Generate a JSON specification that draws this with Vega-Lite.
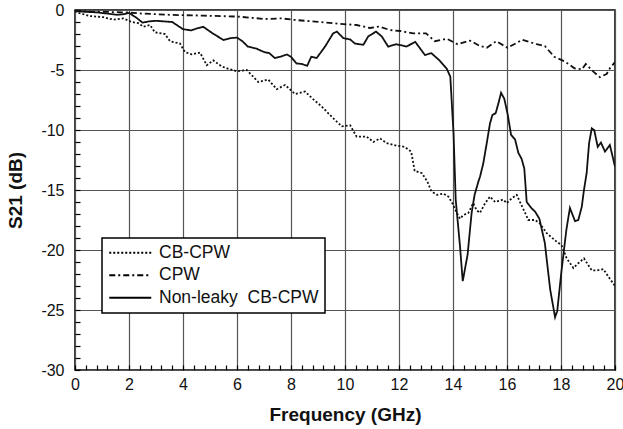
{
  "$schema": "https://vega.github.io/schema/vega-lite/v6.json",
  "width": 540,
  "height": 360,
  "autosize": {"type": "none"},
  "padding": {"left": 75, "top": 10, "right": 8, "bottom": 59},
  "background": "white",
  "config": {
    "font": "Liberation Sans",
    "view": {"stroke": "black", "strokeWidth": 1.5},
    "axis": {
      "domain": false,
      "ticks": true,
      "labelFont": "Liberation Sans",
      "labelFontSize": 16,
      "labelColor": "#111",
      "titleFont": "Liberation Sans",
      "titleFontSize": 19,
      "titleFontWeight": "bold",
      "titleColor": "#111",
      "tickColor": "black",
      "tickWidth": 1.2,
      "gridColor": "#555",
      "gridWidth": 1.2,
      "labelOverlap": false,
      "labelBound": false,
      "labelFlush": false,
      "zindex": 1
    },
    "legend": {
      "orient": "none",
      "legendX": 27,
      "legendY": 228,
      "padding": 6,
      "fillColor": "white",
      "strokeColor": "black",
      "strokeWidth": 1.5,
      "labelFont": "Liberation Sans",
      "labelFontSize": 17.5,
      "labelColor": "#111",
      "symbolType": "M-3,0H3",
      "symbolStrokeWidth": 2,
      "symbolStrokeColor": "black",
      "symbolSize": 196,
      "symbolOffset": 13.5,
      "labelOffset": 20,
      "rowPadding": 3.5,
      "title": null,
      "zindex": 2
    }
  },
  "data": {
    "values": [
      {"f": 0.0, "s21": -0.1, "series": "CB-CPW"},
      {"f": 0.06, "s21": -0.2, "series": "CB-CPW"},
      {"f": 0.55, "s21": -0.5, "series": "CB-CPW"},
      {"f": 1.05, "s21": -0.6, "series": "CB-CPW"},
      {"f": 1.42, "s21": -0.8, "series": "CB-CPW"},
      {"f": 1.79, "s21": -0.7, "series": "CB-CPW"},
      {"f": 2.1, "s21": -1.0, "series": "CB-CPW"},
      {"f": 2.35, "s21": -1.1, "series": "CB-CPW"},
      {"f": 2.53, "s21": -1.4, "series": "CB-CPW"},
      {"f": 2.78, "s21": -1.25, "series": "CB-CPW"},
      {"f": 2.96, "s21": -1.86, "series": "CB-CPW"},
      {"f": 3.33, "s21": -2.0, "series": "CB-CPW"},
      {"f": 3.52, "s21": -2.6, "series": "CB-CPW"},
      {"f": 3.89, "s21": -2.8, "series": "CB-CPW"},
      {"f": 4.07, "s21": -3.5, "series": "CB-CPW"},
      {"f": 4.32, "s21": -3.7, "series": "CB-CPW"},
      {"f": 4.63, "s21": -3.55, "series": "CB-CPW"},
      {"f": 4.88, "s21": -4.6, "series": "CB-CPW"},
      {"f": 5.12, "s21": -4.2, "series": "CB-CPW"},
      {"f": 5.43, "s21": -4.7, "series": "CB-CPW"},
      {"f": 5.68, "s21": -4.9, "series": "CB-CPW"},
      {"f": 5.99, "s21": -5.1, "series": "CB-CPW"},
      {"f": 6.36, "s21": -5.0, "series": "CB-CPW"},
      {"f": 6.79, "s21": -6.0, "series": "CB-CPW"},
      {"f": 7.16, "s21": -5.8, "series": "CB-CPW"},
      {"f": 7.47, "s21": -6.6, "series": "CB-CPW"},
      {"f": 7.78, "s21": -6.25, "series": "CB-CPW"},
      {"f": 8.15, "s21": -7.0, "series": "CB-CPW"},
      {"f": 8.52, "s21": -6.8, "series": "CB-CPW"},
      {"f": 8.83, "s21": -7.45, "series": "CB-CPW"},
      {"f": 9.14, "s21": -8.05, "series": "CB-CPW"},
      {"f": 9.51, "s21": -8.9, "series": "CB-CPW"},
      {"f": 9.88, "s21": -9.7, "series": "CB-CPW"},
      {"f": 10.19, "s21": -9.6, "series": "CB-CPW"},
      {"f": 10.43, "s21": -10.55, "series": "CB-CPW"},
      {"f": 10.8, "s21": -10.55, "series": "CB-CPW"},
      {"f": 11.05, "s21": -11.0, "series": "CB-CPW"},
      {"f": 11.3, "s21": -10.7, "series": "CB-CPW"},
      {"f": 11.54, "s21": -11.1, "series": "CB-CPW"},
      {"f": 11.9, "s21": -11.3, "series": "CB-CPW"},
      {"f": 12.2, "s21": -11.4, "series": "CB-CPW"},
      {"f": 12.45, "s21": -11.8, "series": "CB-CPW"},
      {"f": 12.58, "s21": -13.4, "series": "CB-CPW"},
      {"f": 12.85, "s21": -13.6, "series": "CB-CPW"},
      {"f": 13.05, "s21": -14.3, "series": "CB-CPW"},
      {"f": 13.2, "s21": -15.1, "series": "CB-CPW"},
      {"f": 13.4, "s21": -15.4, "series": "CB-CPW"},
      {"f": 13.64, "s21": -15.3, "series": "CB-CPW"},
      {"f": 13.83, "s21": -15.55, "series": "CB-CPW"},
      {"f": 14.0, "s21": -16.2, "series": "CB-CPW"},
      {"f": 14.14, "s21": -16.9, "series": "CB-CPW"},
      {"f": 14.26, "s21": -17.4, "series": "CB-CPW"},
      {"f": 14.38, "s21": -17.1, "series": "CB-CPW"},
      {"f": 14.57, "s21": -16.9, "series": "CB-CPW"},
      {"f": 14.75, "s21": -16.1, "series": "CB-CPW"},
      {"f": 14.88, "s21": -16.7, "series": "CB-CPW"},
      {"f": 15.0, "s21": -16.9, "series": "CB-CPW"},
      {"f": 15.19, "s21": -16.1, "series": "CB-CPW"},
      {"f": 15.37, "s21": -15.55, "series": "CB-CPW"},
      {"f": 15.56, "s21": -16.0, "series": "CB-CPW"},
      {"f": 15.86, "s21": -15.8, "series": "CB-CPW"},
      {"f": 15.99, "s21": -16.1, "series": "CB-CPW"},
      {"f": 16.17, "s21": -15.7, "series": "CB-CPW"},
      {"f": 16.36, "s21": -15.4, "series": "CB-CPW"},
      {"f": 16.48, "s21": -16.0, "series": "CB-CPW"},
      {"f": 16.67, "s21": -16.9, "series": "CB-CPW"},
      {"f": 16.79, "s21": -17.5, "series": "CB-CPW"},
      {"f": 17.04, "s21": -17.5, "series": "CB-CPW"},
      {"f": 17.22, "s21": -17.8, "series": "CB-CPW"},
      {"f": 17.47, "s21": -18.6, "series": "CB-CPW"},
      {"f": 17.78, "s21": -19.2, "series": "CB-CPW"},
      {"f": 18.02, "s21": -19.6, "series": "CB-CPW"},
      {"f": 18.21, "s21": -20.7, "series": "CB-CPW"},
      {"f": 18.46, "s21": -21.5, "series": "CB-CPW"},
      {"f": 18.64, "s21": -21.1, "series": "CB-CPW"},
      {"f": 18.85, "s21": -20.7, "series": "CB-CPW"},
      {"f": 19.14, "s21": -21.7, "series": "CB-CPW"},
      {"f": 19.32, "s21": -21.7, "series": "CB-CPW"},
      {"f": 19.57, "s21": -21.6, "series": "CB-CPW"},
      {"f": 19.81, "s21": -22.4, "series": "CB-CPW"},
      {"f": 20.0, "s21": -23.0, "series": "CB-CPW"},

      {"f": 0.0, "s21": 0.0, "series": "CPW"},
      {"f": 0.2, "s21": -0.1, "series": "CPW"},
      {"f": 0.6, "s21": -0.15, "series": "CPW"},
      {"f": 1.0, "s21": -0.15, "series": "CPW"},
      {"f": 1.9, "s21": -0.2, "series": "CPW"},
      {"f": 2.5, "s21": -0.3, "series": "CPW"},
      {"f": 3.5, "s21": -0.4, "series": "CPW"},
      {"f": 4.75, "s21": -0.47, "series": "CPW"},
      {"f": 6.04, "s21": -0.55, "series": "CPW"},
      {"f": 7.04, "s21": -0.75, "series": "CPW"},
      {"f": 7.65, "s21": -0.7, "series": "CPW"},
      {"f": 8.15, "s21": -0.83, "series": "CPW"},
      {"f": 8.9, "s21": -0.97, "series": "CPW"},
      {"f": 9.8, "s21": -1.15, "series": "CPW"},
      {"f": 10.43, "s21": -1.25, "series": "CPW"},
      {"f": 10.93, "s21": -1.5, "series": "CPW"},
      {"f": 11.25, "s21": -1.38, "series": "CPW"},
      {"f": 11.67, "s21": -1.67, "series": "CPW"},
      {"f": 12.04, "s21": -1.75, "series": "CPW"},
      {"f": 12.53, "s21": -1.95, "series": "CPW"},
      {"f": 13.0, "s21": -1.95, "series": "CPW"},
      {"f": 13.33, "s21": -2.6, "series": "CPW"},
      {"f": 13.77, "s21": -2.4, "series": "CPW"},
      {"f": 14.17, "s21": -2.85, "series": "CPW"},
      {"f": 14.63, "s21": -2.55, "series": "CPW"},
      {"f": 15.0, "s21": -3.0, "series": "CPW"},
      {"f": 15.25, "s21": -3.15, "series": "CPW"},
      {"f": 15.6, "s21": -2.6, "series": "CPW"},
      {"f": 16.02, "s21": -3.15, "series": "CPW"},
      {"f": 16.57, "s21": -2.48, "series": "CPW"},
      {"f": 17.1, "s21": -2.85, "series": "CPW"},
      {"f": 17.4, "s21": -3.0, "series": "CPW"},
      {"f": 17.75, "s21": -3.9, "series": "CPW"},
      {"f": 18.15, "s21": -4.3, "series": "CPW"},
      {"f": 18.5, "s21": -4.86, "series": "CPW"},
      {"f": 18.77, "s21": -4.95, "series": "CPW"},
      {"f": 18.92, "s21": -4.5, "series": "CPW"},
      {"f": 19.2, "s21": -5.14, "series": "CPW"},
      {"f": 19.44, "s21": -5.6, "series": "CPW"},
      {"f": 19.69, "s21": -5.33, "series": "CPW"},
      {"f": 19.81, "s21": -4.86, "series": "CPW"},
      {"f": 20.0, "s21": -4.35, "series": "CPW"},

      {"f": 0.05, "s21": -0.1, "series": "Non-leaky  CB-CPW"},
      {"f": 0.4, "s21": -0.15, "series": "Non-leaky  CB-CPW"},
      {"f": 0.8, "s21": -0.2, "series": "Non-leaky  CB-CPW"},
      {"f": 1.2, "s21": -0.3, "series": "Non-leaky  CB-CPW"},
      {"f": 1.55, "s21": -0.4, "series": "Non-leaky  CB-CPW"},
      {"f": 1.8, "s21": -0.35, "series": "Non-leaky  CB-CPW"},
      {"f": 2.0, "s21": -0.25, "series": "Non-leaky  CB-CPW"},
      {"f": 2.25, "s21": -0.6, "series": "Non-leaky  CB-CPW"},
      {"f": 2.5, "s21": -1.05, "series": "Non-leaky  CB-CPW"},
      {"f": 2.75, "s21": -0.95, "series": "Non-leaky  CB-CPW"},
      {"f": 3.0, "s21": -0.9, "series": "Non-leaky  CB-CPW"},
      {"f": 3.3, "s21": -0.95, "series": "Non-leaky  CB-CPW"},
      {"f": 3.6, "s21": -1.0, "series": "Non-leaky  CB-CPW"},
      {"f": 3.8, "s21": -1.3, "series": "Non-leaky  CB-CPW"},
      {"f": 4.0, "s21": -1.6, "series": "Non-leaky  CB-CPW"},
      {"f": 4.3, "s21": -1.7, "series": "Non-leaky  CB-CPW"},
      {"f": 4.5, "s21": -1.55, "series": "Non-leaky  CB-CPW"},
      {"f": 4.75, "s21": -1.4, "series": "Non-leaky  CB-CPW"},
      {"f": 5.1, "s21": -1.95, "series": "Non-leaky  CB-CPW"},
      {"f": 5.5, "s21": -2.5, "series": "Non-leaky  CB-CPW"},
      {"f": 5.75, "s21": -2.35, "series": "Non-leaky  CB-CPW"},
      {"f": 6.0, "s21": -2.3, "series": "Non-leaky  CB-CPW"},
      {"f": 6.2, "s21": -2.6, "series": "Non-leaky  CB-CPW"},
      {"f": 6.4, "s21": -3.05, "series": "Non-leaky  CB-CPW"},
      {"f": 6.7, "s21": -3.2, "series": "Non-leaky  CB-CPW"},
      {"f": 7.0, "s21": -3.5, "series": "Non-leaky  CB-CPW"},
      {"f": 7.2, "s21": -3.6, "series": "Non-leaky  CB-CPW"},
      {"f": 7.4, "s21": -4.0, "series": "Non-leaky  CB-CPW"},
      {"f": 7.6, "s21": -3.9, "series": "Non-leaky  CB-CPW"},
      {"f": 7.85, "s21": -3.7, "series": "Non-leaky  CB-CPW"},
      {"f": 8.0, "s21": -3.9, "series": "Non-leaky  CB-CPW"},
      {"f": 8.2, "s21": -4.45, "series": "Non-leaky  CB-CPW"},
      {"f": 8.4, "s21": -4.5, "series": "Non-leaky  CB-CPW"},
      {"f": 8.6, "s21": -4.65, "series": "Non-leaky  CB-CPW"},
      {"f": 8.75, "s21": -3.9, "series": "Non-leaky  CB-CPW"},
      {"f": 8.95, "s21": -4.0, "series": "Non-leaky  CB-CPW"},
      {"f": 9.26, "s21": -3.05, "series": "Non-leaky  CB-CPW"},
      {"f": 9.56, "s21": -1.95, "series": "Non-leaky  CB-CPW"},
      {"f": 9.7, "s21": -1.8, "series": "Non-leaky  CB-CPW"},
      {"f": 9.94, "s21": -2.35, "series": "Non-leaky  CB-CPW"},
      {"f": 10.19, "s21": -2.45, "series": "Non-leaky  CB-CPW"},
      {"f": 10.37, "s21": -2.8, "series": "Non-leaky  CB-CPW"},
      {"f": 10.68, "s21": -2.9, "series": "Non-leaky  CB-CPW"},
      {"f": 10.86, "s21": -2.2, "series": "Non-leaky  CB-CPW"},
      {"f": 11.15, "s21": -1.8, "series": "Non-leaky  CB-CPW"},
      {"f": 11.36, "s21": -2.2, "series": "Non-leaky  CB-CPW"},
      {"f": 11.6, "s21": -3.05, "series": "Non-leaky  CB-CPW"},
      {"f": 11.9, "s21": -2.85, "series": "Non-leaky  CB-CPW"},
      {"f": 12.28, "s21": -3.05, "series": "Non-leaky  CB-CPW"},
      {"f": 12.6, "s21": -2.65, "series": "Non-leaky  CB-CPW"},
      {"f": 12.96, "s21": -3.75, "series": "Non-leaky  CB-CPW"},
      {"f": 13.2, "s21": -3.6, "series": "Non-leaky  CB-CPW"},
      {"f": 13.5, "s21": -4.2, "series": "Non-leaky  CB-CPW"},
      {"f": 13.77, "s21": -4.9, "series": "Non-leaky  CB-CPW"},
      {"f": 13.9, "s21": -5.55, "series": "Non-leaky  CB-CPW"},
      {"f": 14.02, "s21": -10.3, "series": "Non-leaky  CB-CPW"},
      {"f": 14.1, "s21": -15.8, "series": "Non-leaky  CB-CPW"},
      {"f": 14.26, "s21": -19.7, "series": "Non-leaky  CB-CPW"},
      {"f": 14.36, "s21": -22.6, "series": "Non-leaky  CB-CPW"},
      {"f": 14.54, "s21": -20.4, "series": "Non-leaky  CB-CPW"},
      {"f": 14.69, "s21": -16.9, "series": "Non-leaky  CB-CPW"},
      {"f": 14.8, "s21": -15.4, "series": "Non-leaky  CB-CPW"},
      {"f": 14.94, "s21": -14.3, "series": "Non-leaky  CB-CPW"},
      {"f": 15.0, "s21": -13.9, "series": "Non-leaky  CB-CPW"},
      {"f": 15.12, "s21": -12.8, "series": "Non-leaky  CB-CPW"},
      {"f": 15.25, "s21": -11.1, "series": "Non-leaky  CB-CPW"},
      {"f": 15.37, "s21": -9.45, "series": "Non-leaky  CB-CPW"},
      {"f": 15.46, "s21": -8.75, "series": "Non-leaky  CB-CPW"},
      {"f": 15.58, "s21": -8.6, "series": "Non-leaky  CB-CPW"},
      {"f": 15.68, "s21": -7.8, "series": "Non-leaky  CB-CPW"},
      {"f": 15.78, "s21": -6.9, "series": "Non-leaky  CB-CPW"},
      {"f": 15.9, "s21": -7.4, "series": "Non-leaky  CB-CPW"},
      {"f": 16.03, "s21": -8.75, "series": "Non-leaky  CB-CPW"},
      {"f": 16.15, "s21": -10.4, "series": "Non-leaky  CB-CPW"},
      {"f": 16.3, "s21": -10.8, "series": "Non-leaky  CB-CPW"},
      {"f": 16.42, "s21": -11.9, "series": "Non-leaky  CB-CPW"},
      {"f": 16.54, "s21": -12.4, "series": "Non-leaky  CB-CPW"},
      {"f": 16.64, "s21": -13.2, "series": "Non-leaky  CB-CPW"},
      {"f": 16.73, "s21": -16.0, "series": "Non-leaky  CB-CPW"},
      {"f": 16.9, "s21": -16.5, "series": "Non-leaky  CB-CPW"},
      {"f": 17.04, "s21": -16.8, "series": "Non-leaky  CB-CPW"},
      {"f": 17.2, "s21": -17.4, "series": "Non-leaky  CB-CPW"},
      {"f": 17.4, "s21": -19.4, "series": "Non-leaky  CB-CPW"},
      {"f": 17.6, "s21": -23.3, "series": "Non-leaky  CB-CPW"},
      {"f": 17.78, "s21": -25.6, "series": "Non-leaky  CB-CPW"},
      {"f": 17.86, "s21": -25.1, "series": "Non-leaky  CB-CPW"},
      {"f": 18.02, "s21": -21.7, "series": "Non-leaky  CB-CPW"},
      {"f": 18.2, "s21": -18.3, "series": "Non-leaky  CB-CPW"},
      {"f": 18.33, "s21": -16.5, "series": "Non-leaky  CB-CPW"},
      {"f": 18.52, "s21": -17.6, "series": "Non-leaky  CB-CPW"},
      {"f": 18.64, "s21": -17.5, "series": "Non-leaky  CB-CPW"},
      {"f": 18.77, "s21": -16.4, "series": "Non-leaky  CB-CPW"},
      {"f": 18.85, "s21": -15.0, "series": "Non-leaky  CB-CPW"},
      {"f": 18.95, "s21": -13.6, "series": "Non-leaky  CB-CPW"},
      {"f": 19.04, "s21": -11.1, "series": "Non-leaky  CB-CPW"},
      {"f": 19.14, "s21": -9.86, "series": "Non-leaky  CB-CPW"},
      {"f": 19.23, "s21": -10.0, "series": "Non-leaky  CB-CPW"},
      {"f": 19.36, "s21": -11.4, "series": "Non-leaky  CB-CPW"},
      {"f": 19.48, "s21": -11.05, "series": "Non-leaky  CB-CPW"},
      {"f": 19.63, "s21": -11.8, "series": "Non-leaky  CB-CPW"},
      {"f": 19.81, "s21": -11.25, "series": "Non-leaky  CB-CPW"},
      {"f": 20.0, "s21": -13.05, "series": "Non-leaky  CB-CPW"}
    ]
  },
  "mark": {"type": "line", "color": "#111", "strokeWidth": 1.8, "strokeCap": "butt", "clip": true},
  "encoding": {
    "x": {
      "field": "f",
      "type": "quantitative",
      "scale": {"domain": [0, 20], "nice": false, "zero": false},
      "axis": {
        "title": "Frequency (GHz)",
        "values": [0, 0.4, 0.8, 1.2, 1.6, 2, 2.4, 2.8, 3.2, 3.6, 4, 4.4, 4.8, 5.2, 5.6, 6, 6.4, 6.8, 7.2, 7.6, 8, 8.4, 8.8, 9.2, 9.6, 10, 10.4, 10.8, 11.2, 11.6, 12, 12.4, 12.8, 13.2, 13.6, 14, 14.4, 14.8, 15.2, 15.6, 16, 16.4, 16.8, 17.2, 17.6, 18, 18.4, 18.8, 19.2, 19.6, 20],
        "labelExpr": "datum.value % 2 == 0 ? '' + datum.value : ''",
        "gridOpacity": {"condition": {"test": "datum.value % 2 == 0", "value": 1}, "value": 0},
        "ticks": true,
        "tickSize": -5,
        "labelPadding": 11,
        "titlePadding": 13
      }
    },
    "y": {
      "field": "s21",
      "type": "quantitative",
      "scale": {"domain": [-30, 0], "nice": false, "zero": false},
      "axis": {
        "title": "S21 (dB)",
        "values": [-30, -29, -28, -27, -26, -25, -24, -23, -22, -21, -20, -19, -18, -17, -16, -15, -14, -13, -12, -11, -10, -9, -8, -7, -6, -5, -4, -3, -2, -1, 0],
        "labelExpr": "datum.value % 5 == 0 ? '' + datum.value : ''",
        "gridOpacity": {"condition": {"test": "datum.value % 5 == 0", "value": 1}, "value": 0},
        "ticks": true,
        "tickSize": -5,
        "labelPadding": 16,
        "titlePadding": 15
      }
    },
    "strokeDash": {
      "field": "series",
      "type": "nominal",
      "scale": {
        "domain": ["CB-CPW", "CPW", "Non-leaky  CB-CPW"],
        "range": [[2, 2], [6, 3, 2, 3], [1, 0]]
      },
      "legend": {"labelExpr": "replace(datum.label, '  ', '\u00a0 ')"}
    }
  }
}
